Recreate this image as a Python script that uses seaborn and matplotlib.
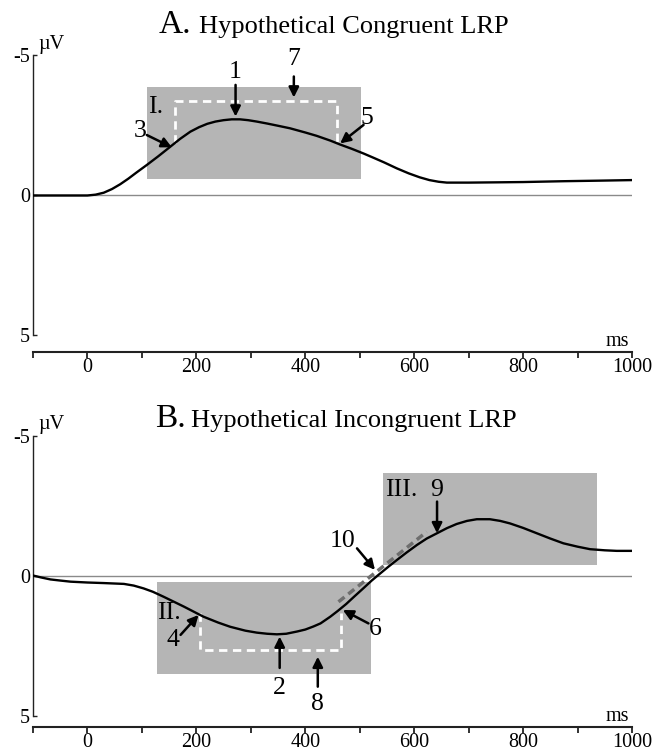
import matplotlib
matplotlib.use("Agg")
import matplotlib.pyplot as plt
import numpy as np
import pandas as pd
import seaborn as sns
from matplotlib.patches import Rectangle

# ---------------- data ----------------
time_a = [-100, -50, -20, 0, 15, 30, 45, 60, 75, 90, 109, 130, 152, 170, 189, 205, 220,
          235, 250, 265, 280, 295, 311, 330, 350, 372, 400, 421, 446, 464, 485, 507,
          525, 545, 568, 590, 610, 628, 645, 660, 700, 752, 800, 874, 940, 1000]
lrp_a = [0, 0, 0, 0, -0.03, -0.1, -0.23, -0.4, -0.6, -0.82, -1.09, -1.4, -1.74, -2.02,
         -2.28, -2.44, -2.56, -2.64, -2.69, -2.72, -2.72, -2.69, -2.64, -2.57, -2.49,
         -2.4, -2.25, -2.13, -1.96, -1.82, -1.67, -1.5, -1.35, -1.18, -0.97, -0.79,
         -0.65, -0.55, -0.49, -0.46, -0.46, -0.47, -0.48, -0.51, -0.53, -0.55]

time_b = [-100, -85, -68, -50, -31, 0, 30, 67, 85, 103, 120, 140, 158, 177, 195, 213,
          240, 262, 290, 311, 330, 348, 365, 385, 400, 415, 428, 446, 460, 475, 490,
          507, 522, 538, 553, 568, 586, 605, 623, 642, 660, 678, 697, 715, 739, 758,
          776, 800, 825, 850, 874, 900, 923, 950, 972, 1000]
lrp_b = [0, 0.07, 0.14, 0.18, 0.22, 0.25, 0.27, 0.3, 0.36, 0.46, 0.58, 0.76, 0.93, 1.11,
         1.29, 1.47, 1.68, 1.83, 1.97, 2.04, 2.08, 2.1, 2.08, 2.0, 1.93, 1.82, 1.71,
         1.47, 1.26, 1.02, 0.75, 0.45, 0.18, -0.08, -0.32, -0.55, -0.82, -1.09, -1.32,
         -1.51, -1.69, -1.84, -1.95, -2.01, -2.01, -1.95, -1.86, -1.7, -1.51, -1.32,
         -1.15, -1.03, -0.94, -0.9, -0.88, -0.88]

x_major_ticks = [0, 200, 400, 600, 800, 1000]
x_minor_ticks = [-100, 100, 300, 500, 700, 900]
y_ticks = [-5, 0, 5]
y_tick_labels = ["-5", "0", "5"]

# windows (ms range, µV range)
window_I_ms = [109, 502]
window_I_uv = [-3.89, -0.58]
window_II_ms = [127, 521]
window_II_uv = [0.22, 3.53]
window_III_ms = [543, 935]
window_III_uv = [-3.65, -0.38]

# white dashed brackets (ms, µV)
bracket_a_ms = [161, 161, 459, 459]
bracket_a_uv = [-1.86, -3.38, -3.38, -1.92]
bracket_b_ms = [207, 207, 465, 465]
bracket_b_uv = [1.35, 2.66, 2.66, 1.35]

# tangent extrapolation (10)
tangent_ms = [461, 623]
tangent_uv = [0.94, -1.56]

titles_letter = ["A.", "B."]
titles_text = ["Hypothetical Congruent LRP", "Hypothetical Incongruent LRP"]

# ---------------- style ----------------
sns.set_style("white")
SERIF = ["Liberation Serif", "DejaVu Serif"]
plt.rcParams["font.family"] = SERIF
plt.rcParams["text.color"] = "black"

W, H = 665, 754
fig = plt.figure(figsize=(W / 100, H / 100), dpi=100)

BOX = "#b5b5b5"
TICK_FS = 14.5
NUM_FS = 18.5


def px_ax(left_px, top_px, right_px, bottom_px):
    return [left_px / W, 1 - bottom_px / H, (right_px - left_px) / W, (bottom_px - top_px) / H]


def setup(ax, ylo):
    ax.set_xlim(-100, 1000)
    ax.set_ylim(ylo, -5.3)
    for s in ["top", "right"]:
        ax.spines[s].set_visible(False)
    ax.spines["left"].set_bounds(-5, 5)
    for s in ["left", "bottom"]:
        ax.spines[s].set_color("#222222")
        ax.spines[s].set_linewidth(1.0)
    ax.spines["bottom"].set_linewidth(1.5)
    ax.set_xticks(x_major_ticks)
    ax.set_xticks(x_minor_ticks, minor=True)
    ax.set_xticklabels([str(t) for t in x_major_ticks], fontsize=TICK_FS, color="black")
    ax.set_yticks(y_ticks)
    ax.set_yticklabels(y_tick_labels, fontsize=TICK_FS, color="black")
    ax.tick_params(axis="x", which="both", direction="out", length=4, width=1.3,
                   color="#222222", pad=0, bottom=True)
    ax.tick_params(axis="y", which="both", direction="in", length=3, width=1.0,
                   color="#222222", pad=2, left=True)
    ax.set_xlabel("")
    ax.set_ylabel("")
    ax.axhline(0, color="#8a8a8a", lw=1.0, zorder=1)
    ax.text(0.995, 0.004, "ms", transform=ax.transAxes, ha="right", va="bottom",
            fontsize=TICK_FS)
    ax.text(-91, -5.05, "µV", ha="left", va="bottom", fontsize=TICK_FS)


def arrow(ax, tail, tip):
    ax.annotate("", xy=tip, xytext=tail,
                arrowprops=dict(arrowstyle="-|>", color="black", lw=1.8,
                                mutation_scale=15, shrinkA=0, shrinkB=0),
                zorder=5)


def label(ax, x, y, s, fs=NUM_FS):
    ax.text(x, y, s, ha="center", va="center", fontsize=fs, zorder=6)


# ---------------- panel A ----------------
axA = fig.add_axes(px_ax(33, 47.1, 632, 352))
setup(axA, 5.59)
axA.add_patch(Rectangle((window_I_ms[0], window_I_uv[0]), window_I_ms[1] - window_I_ms[0],
                        window_I_uv[1] - window_I_uv[0], color=BOX, lw=0, zorder=2))
axA.plot(bracket_a_ms, bracket_a_uv, color="white", lw=2, ls=(0, (3, 2)), zorder=3)
dfA = pd.DataFrame({"ms": time_a, "uv": lrp_a})
sns.lineplot(data=dfA, x="ms", y="uv", ax=axA, color="black", lw=1.7, zorder=4)
axA.set_xlabel("")
axA.set_ylabel("")

label(axA, 125, -3.17, "I.")
label(axA, 272, -4.4, "1")
arrow(axA, (272, -3.95), (272, -2.82))
label(axA, 379, -4.86, "7")
arrow(axA, (379, -4.25), (379, -3.5))
label(axA, 96, -2.3, "3")
arrow(axA, (109, -2.16), (155, -1.72))
label(axA, 514, -2.78, "5")
arrow(axA, (507, -2.52), (464, -1.86))

# ---------------- panel B ----------------
axB = fig.add_axes(px_ax(33, 427.1, 632, 727))
setup(axB, 5.41)
axB.add_patch(Rectangle((window_II_ms[0], window_II_uv[0]), window_II_ms[1] - window_II_ms[0],
                        window_II_uv[1] - window_II_uv[0], color=BOX, lw=0, zorder=2))
axB.add_patch(Rectangle((window_III_ms[0], window_III_uv[0]), window_III_ms[1] - window_III_ms[0],
                        window_III_uv[1] - window_III_uv[0], color=BOX, lw=0, zorder=2))
axB.plot(bracket_b_ms, bracket_b_uv, color="white", lw=2, ls=(0, (3, 2)), zorder=3)
axB.plot(tangent_ms, tangent_uv, color="#6e6e6e", lw=2.5, ls=(0, (2.2, 1.4)), zorder=3)
dfB = pd.DataFrame({"ms": time_b, "uv": lrp_b})
sns.lineplot(data=dfB, x="ms", y="uv", ax=axB, color="black", lw=1.7, zorder=4)
axB.set_xlabel("")
axB.set_ylabel("")

label(axB, 149, 1.35, "II.")
label(axB, 157, 2.32, "4")
arrow(axB, (171, 2.12), (204, 1.41))
label(axB, 353, 4.0, "2")
arrow(axB, (353, 3.3), (353, 2.18))
label(axB, 423, 4.6, "8")
arrow(axB, (423, 3.97), (423, 2.9))
label(axB, 529, 1.92, "6")
arrow(axB, (516, 1.71), (469, 1.23))
label(axB, 577, -3.05, "III.")
label(axB, 642, -3.05, "9")
arrow(axB, (642, -2.64), (642, -1.51))
label(axB, 468, -1.23, "10")
arrow(axB, (495, -0.97), (528, -0.2))

# ---------------- titles ----------------
fig.text(159 / W, 1 - 33 / H, titles_letter[0], fontsize=24, ha="left", va="baseline")
fig.text(199 / W, 1 - 33 / H, titles_text[0], fontsize=19, ha="left", va="baseline")
fig.text(155 / W, 1 - 427 / H, titles_letter[1], fontsize=24, ha="left", va="baseline")
fig.text(191 / W, 1 - 427 / H, titles_text[1], fontsize=19, ha="left", va="baseline")

fig.savefig("out.png", dpi=100)
